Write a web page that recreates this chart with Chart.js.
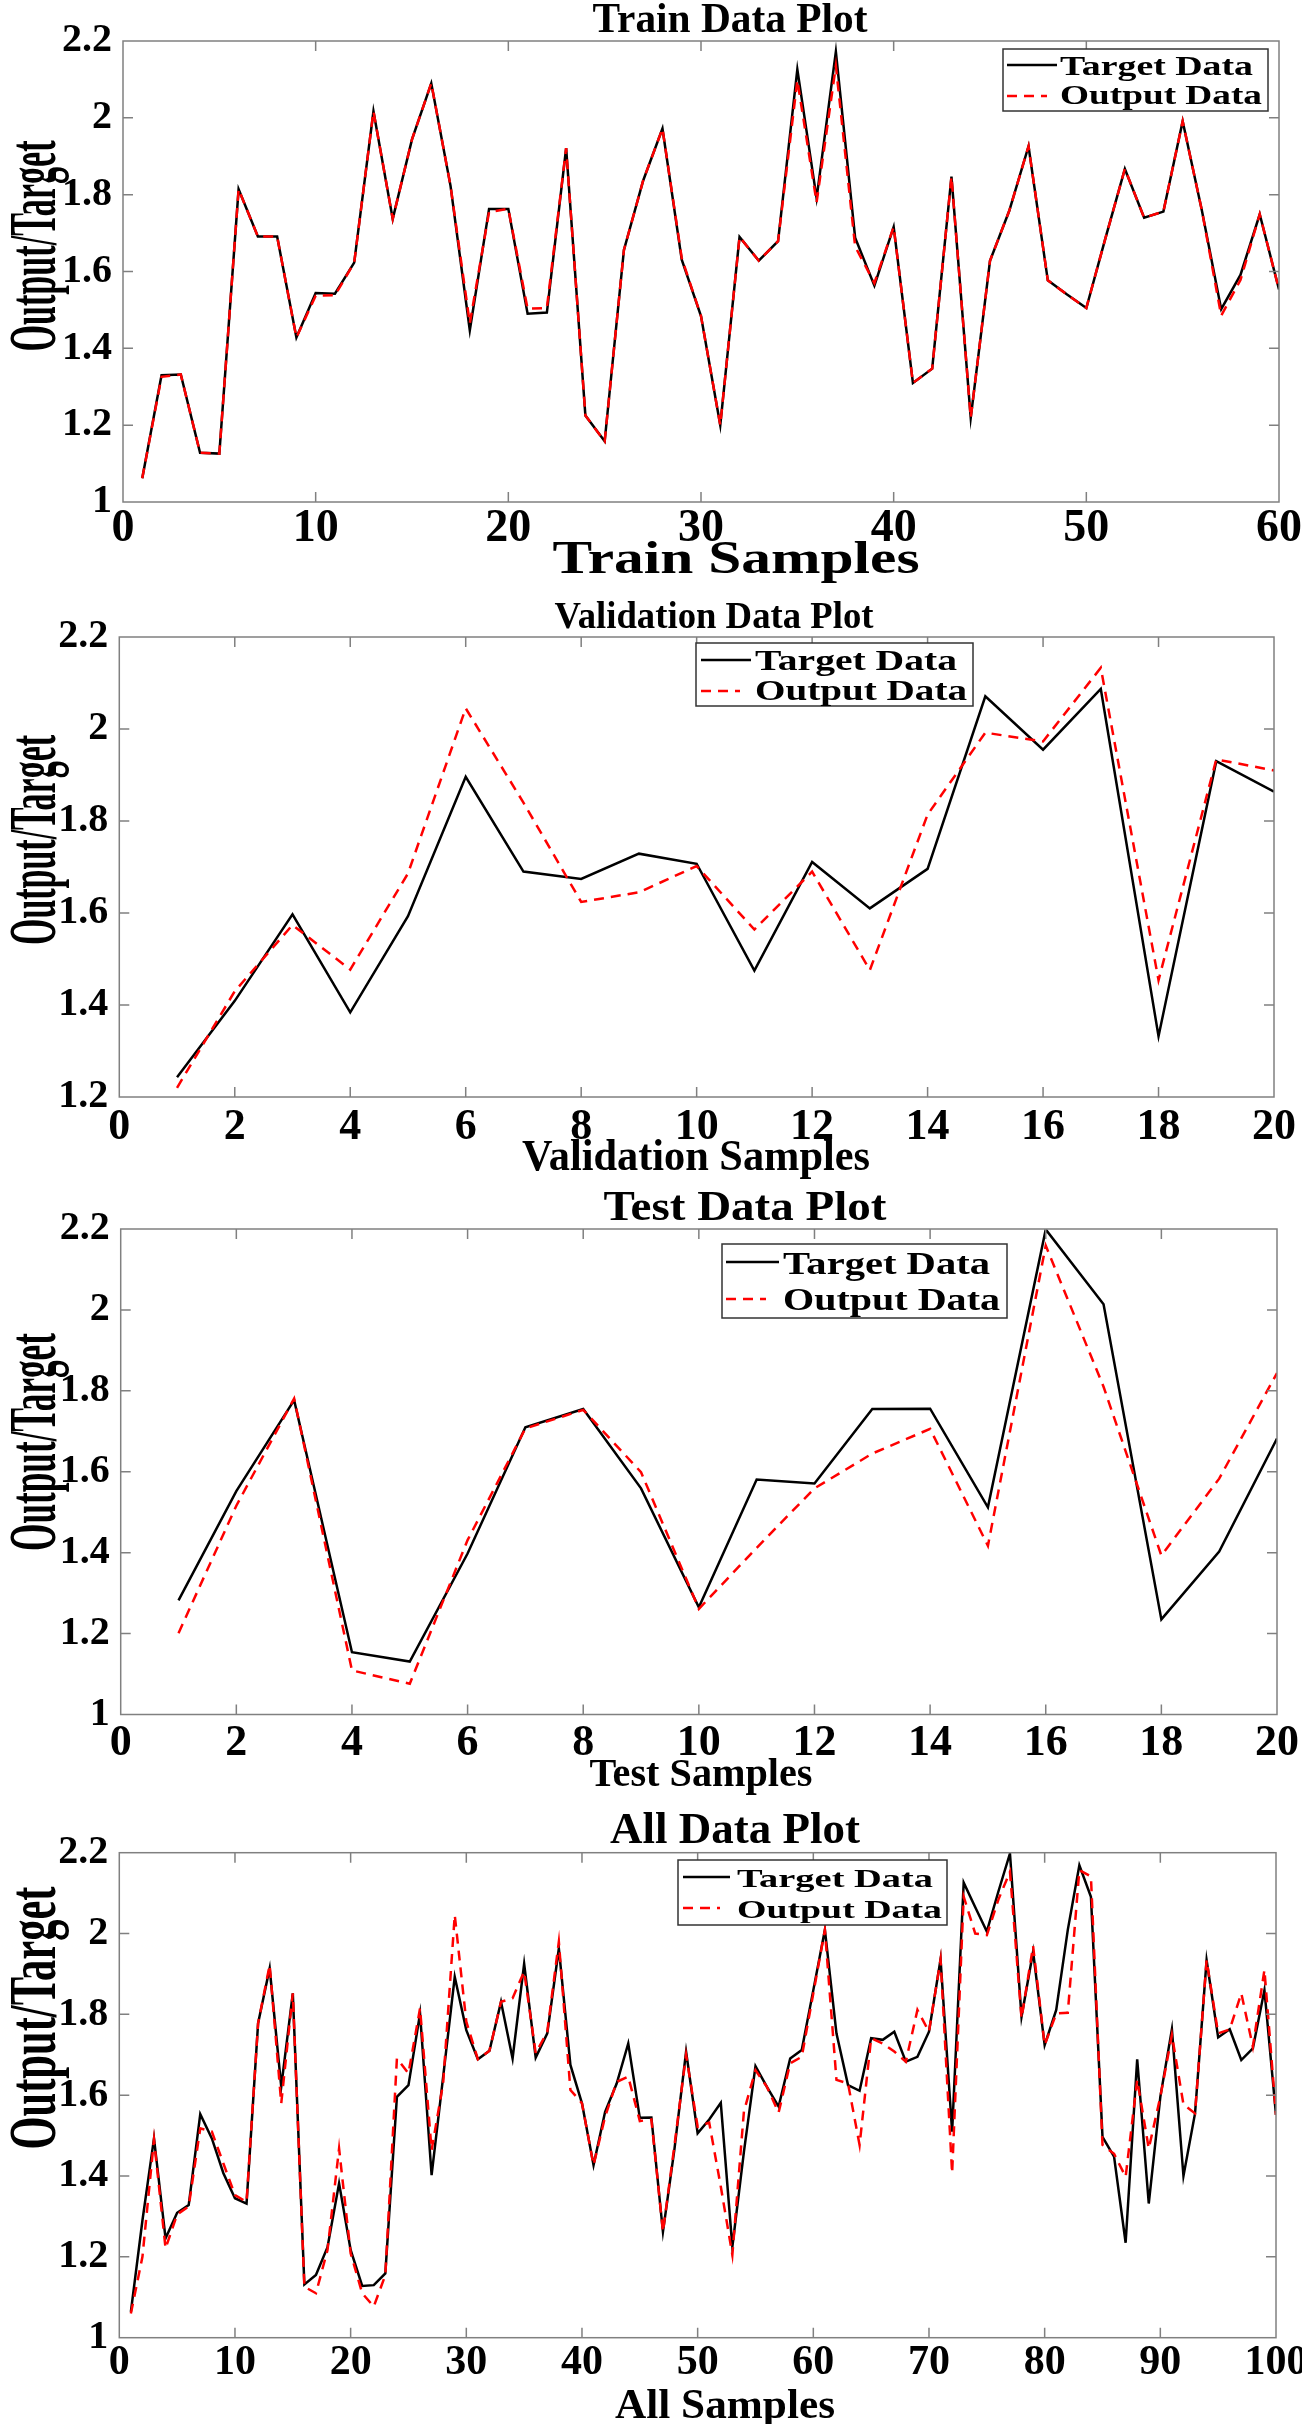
<!DOCTYPE html>
<html>
<head>
<meta charset="utf-8">
<title>Train / Validation / Test / All Data Plot</title>
<script src="https://cdn.jsdelivr.net/npm/chart.js@4.4.1/dist/chart.umd.min.js"></script>
<style>
  html, body { margin: 0; padding: 0; background: #fff; }
  body { position: relative; width: 1302px; height: 2424px; overflow: hidden; }
  canvas { position: absolute; left: 0; }
</style>
</head>
<body>
<canvas id="train" width="1302" height="600" style="top:0px"></canvas>
<canvas id="valid" width="1302" height="600" style="top:590px"></canvas>
<canvas id="test" width="1302" height="620" style="top:1185px"></canvas>
<canvas id="all" width="1302" height="619" style="top:1805px"></canvas>
<script>
//! Data

const trainTarget = [1.062, 1.330, 1.332, 1.128, 1.126, 1.814, 1.691, 1.691, 1.428, 1.544,
  1.542, 1.623, 2.017, 1.737, 1.944, 2.090, 1.823, 1.447, 1.763, 1.763,
  1.490, 1.493, 1.921, 1.225, 1.158, 1.656, 1.837, 1.972, 1.631, 1.484,
  1.200, 1.690, 1.628, 1.679, 2.126, 1.791, 2.172, 1.688, 1.563, 1.716,
  1.310, 1.347, 1.847, 1.219, 1.628, 1.758, 1.926, 1.577, 1.540, 1.505,
  1.688, 1.867, 1.740, 1.756, 1.991, 1.758, 1.502, 1.591, 1.749, 1.553];
const trainOutput = [1.062, 1.326, 1.332, 1.128, 1.126, 1.814, 1.691, 1.691, 1.428, 1.537,
  1.538, 1.623, 2.017, 1.737, 1.944, 2.090, 1.823, 1.465, 1.755, 1.763,
  1.503, 1.505, 1.921, 1.225, 1.158, 1.656, 1.837, 1.972, 1.635, 1.484,
  1.200, 1.690, 1.628, 1.679, 2.098, 1.780, 2.135, 1.665, 1.570, 1.716,
  1.310, 1.347, 1.847, 1.219, 1.628, 1.758, 1.926, 1.577, 1.540, 1.505,
  1.688, 1.867, 1.740, 1.756, 1.991, 1.758, 1.485, 1.578, 1.749, 1.553];

const validTarget = [1.243, 1.409, 1.597, 1.384, 1.593, 1.896, 1.690, 1.674, 1.729, 1.707,
  1.475, 1.711, 1.610, 1.696, 2.071, 1.955, 2.087, 1.332, 1.930, 1.864];
const validOutput = [1.220, 1.430, 1.574, 1.477, 1.686, 2.045, 1.840, 1.624, 1.645, 1.702,
  1.564, 1.690, 1.476, 1.814, 1.992, 1.973, 2.133, 1.454, 1.934, 1.910];

const testTarget = [1.282, 1.552, 1.777, 1.154, 1.131, 1.398, 1.710, 1.755, 1.559, 1.265,
  1.581, 1.571, 1.755, 1.756, 1.512, 2.199, 2.014, 1.235, 1.403, 1.682];
const testOutput = [1.201, 1.516, 1.781, 1.109, 1.076, 1.431, 1.707, 1.753, 1.599, 1.261,
  1.412, 1.559, 1.645, 1.706, 1.417, 2.159, 1.810, 1.393, 1.583, 1.844];

const allTarget = [1.064, 1.290, 1.493, 1.246, 1.309, 1.328, 1.553, 1.493, 1.407, 1.345,
  1.332, 1.778, 1.914, 1.621, 1.852, 1.132, 1.155, 1.224, 1.382, 1.217,
  1.128, 1.130, 1.159, 1.596, 1.625, 1.802, 1.402, 1.646, 1.893, 1.761,
  1.689, 1.710, 1.831, 1.691, 1.925, 1.693, 1.753, 1.963, 1.675, 1.580,
  1.427, 1.559, 1.629, 1.728, 1.544, 1.545, 1.262, 1.468, 1.708, 1.506,
  1.540, 1.581, 1.225, 1.460, 1.672, 1.620, 1.572, 1.691, 1.712, 1.860,
  2.009, 1.753, 1.625, 1.611, 1.741, 1.737, 1.757, 1.683, 1.695, 1.757,
  1.936, 1.510, 2.126, 2.065, 2.005, 2.104, 2.198, 1.794, 1.955, 1.724,
  1.811, 2.009, 2.169, 2.091, 1.497, 1.448, 1.235, 1.689, 1.332, 1.596,
  1.763, 1.400, 1.555, 1.934, 1.743, 1.763, 1.687, 1.716, 1.860, 1.551];
const allOutput = [1.060, 1.200, 1.490, 1.221, 1.305, 1.325, 1.518, 1.510, 1.431, 1.353,
  1.336, 1.778, 1.922, 1.580, 1.852, 1.126, 1.110, 1.217, 1.468, 1.209,
  1.110, 1.077, 1.155, 1.691, 1.654, 1.815, 1.464, 1.630, 2.046, 1.782,
  1.689, 1.710, 1.831, 1.840, 1.906, 1.704, 1.757, 1.980, 1.613, 1.580,
  1.427, 1.547, 1.633, 1.646, 1.536, 1.540, 1.262, 1.477, 1.700, 1.522,
  1.532, 1.374, 1.205, 1.560, 1.662, 1.620, 1.557, 1.679, 1.695, 1.852,
  2.009, 1.638, 1.629, 1.477, 1.741, 1.728, 1.708, 1.683, 1.811, 1.757,
  1.936, 1.407, 2.091, 2.000, 1.996, 2.084, 2.153, 1.790, 1.969, 1.724,
  1.802, 1.804, 2.157, 2.141, 1.477, 1.455, 1.398, 1.638, 1.468, 1.596,
  1.749, 1.577, 1.555, 1.934, 1.753, 1.763, 1.852, 1.720, 1.910, 1.551];

const xTicks60 = [0, 10, 20, 30, 40, 50, 60];
const xTicks20 = [0, 2, 4, 6, 8, 10, 12, 14, 16, 18, 20];
const xTicks100 = [0, 10, 20, 30, 40, 50, 60, 70, 80, 90, 100];
const yTicksFrom1 = [1, 1.2, 1.4, 1.6, 1.8, 2, 2.2];
const yTicksFrom12 = [1.2, 1.4, 1.6, 1.8, 2, 2.2];

//! Shared look

const FONT = "'Liberation Serif', 'Times New Roman', Times, serif";
Chart.defaults.font.family = FONT;
Chart.defaults.font.weight = "bold";
Chart.defaults.color = "#000";

// text drawn squeezed/stretched to a given width, like the original figure
function drawText(ctx, t, top) {
  ctx.save();
  ctx.font = `bold ${t.size}px ${FONT}`;
  ctx.fillStyle = "#000";
  ctx.textAlign = t.align || "center";
  ctx.textBaseline = "alphabetic";
  const sx = t.w ? t.w / ctx.measureText(t.text).width : 1;
  ctx.translate(t.x, t.y - top);
  if (t.rot) ctx.rotate(-Math.PI / 2);
  ctx.scale(sx, 1);
  ctx.fillText(t.text, 0, 0);
  ctx.restore();
}

function panelPlugin(p) {
  return {
    id: "panel-" + p.id,
    afterDatasetsDraw(chart) {
      const { ctx, chartArea: a, scales: { x, y } } = chart;
      ctx.save();
      ctx.strokeStyle = "#808080";
      ctx.lineWidth = 1.5;
      ctx.strokeRect(a.left, a.top, a.right - a.left, a.bottom - a.top);
      const len = 10;
      ctx.beginPath();
      x.ticks.forEach((t) => {
        const px = x.getPixelForValue(t.value);
        if (px < a.left + 2 || px > a.right - 2) return;
        ctx.moveTo(px, a.bottom); ctx.lineTo(px, a.bottom - len);
        ctx.moveTo(px, a.top); ctx.lineTo(px, a.top + len);
      });
      y.ticks.forEach((t) => {
        const py = y.getPixelForValue(t.value);
        if (py < a.top + 2 || py > a.bottom - 2) return;
        ctx.moveTo(a.left, py); ctx.lineTo(a.left + len, py);
        ctx.moveTo(a.right, py); ctx.lineTo(a.right - len, py);
      });
      ctx.stroke();
      ctx.restore();
    },
    afterDraw(chart) {
      const ctx = chart.ctx;
      p.texts.forEach((t) => drawText(ctx, t, p.top));
      // legend box
      const lg = p.legend;
      const [x1, y1, x2, y2] = lg.box;
      ctx.save();
      ctx.fillStyle = "#fff";
      ctx.fillRect(x1, y1 - p.top, x2 - x1, y2 - y1);
      ctx.strokeStyle = "#333";
      ctx.lineWidth = 1.5;
      ctx.strokeRect(x1, y1 - p.top, x2 - x1, y2 - y1);
      chart.data.datasets.forEach((ds, i) => {
        const row = lg.rows[i];
        ctx.beginPath();
        ctx.strokeStyle = ds.borderColor;
        ctx.lineWidth = ds.borderWidth;
        ctx.setLineDash(ds.borderDash || []);
        ctx.moveTo(row.line[0], row.y - p.top);
        ctx.lineTo(row.line[1], row.y - p.top);
        ctx.stroke();
        ctx.setLineDash([]);
        drawText(ctx, { text: ds.label, x: lg.textX, y: row.base, size: lg.size, w: row.w, align: "left" }, p.top);
      });
      ctx.restore();
    },
  };
}

function makeChart(p) {
  const toPoints = (arr) => arr.map((v, i) => ({ x: i + 1, y: v }));
  return new Chart(document.getElementById(p.id), {
    type: "line",
    data: {
      datasets: [
        {
          label: "Target Data",
          data: toPoints(p.target),
          borderColor: "#000000",
          borderWidth: 2.5,
          pointRadius: 0,
          tension: 0,
          order: 1,
        },
        {
          label: "Output Data",
          data: toPoints(p.output),
          borderColor: "#ff0000",
          borderWidth: 2.5,
          borderDash: [10, 7],
          pointRadius: 0,
          tension: 0,
          order: 0,
        },
      ],
    },
    options: {
      responsive: false,
      animation: false,
      events: [],
      layout: {
        padding: { top: p.plot.t - p.top, right: 1302 - p.plot.r, left: 0, bottom: 0 },
      },
      plugins: { legend: { display: false }, tooltip: { enabled: false } },
      scales: {
        x: {
          type: "linear",
          min: p.xTicks[0],
          max: p.xTicks[p.xTicks.length - 1],
          grid: { display: false, drawTicks: false },
          border: { display: false },
          ticks: { padding: p.xPad, maxRotation: 0, autoSkip: false, font: { size: p.xFont, weight: "bold" } },
          afterBuildTicks: (s) => { s.ticks = p.xTicks.map((v) => ({ value: v })); },
          afterFit: (s) => {
            s.height = p.top + p.height - p.plot.b;
            s.paddingLeft = 0;
            s.paddingRight = 0;
          },
        },
        y: {
          type: "linear",
          min: p.yTicks[0],
          max: p.yTicks[p.yTicks.length - 1],
          grid: { display: false, drawTicks: false },
          border: { display: false },
          ticks: {
            padding: 11,
            font: { size: 40, weight: "bold" },
            callback: (v) => String(+v.toFixed(1)),
          },
          afterBuildTicks: (s) => { s.ticks = p.yTicks.map((v) => ({ value: v })); },
          afterFit: (s) => {
            s.width = p.plot.l;
            s.paddingTop = 0;
            s.paddingBottom = 0;
          },
        },
      },
    },
    plugins: [panelPlugin(p)],
  });
}

//! Panels (positions in page pixels)

makeChart({
  id: "train", top: 0, height: 600,
  plot: { l: 123, r: 1279, t: 41, b: 502 },
  target: trainTarget, output: trainOutput,
  xTicks: xTicks60, yTicks: yTicksFrom1, xFont: 46, xPad: 0,
  texts: [
    { text: "Train Data Plot", x: 730, y: 32, size: 43, w: 275 },
    { text: "Train Samples", x: 736, y: 573, size: 46, w: 367 },
    { text: "Output/Target", x: 55, y: 246, size: 68, w: 211, rot: true },
  ],
  legend: {
    box: [1003, 49, 1268, 111], textX: 1060, size: 27,
    rows: [
      { line: [1007, 1057], y: 65, base: 75, w: 193 },
      { line: [1007, 1047], y: 96, base: 104, w: 202 },
    ],
  },
});

makeChart({
  id: "valid", top: 590, height: 600,
  plot: { l: 119.3, r: 1274, t: 637, b: 1097 },
  target: validTarget, output: validOutput,
  xTicks: xTicks20, yTicks: yTicksFrom12, xFont: 44, xPad: 4,
  texts: [
    { text: "Validation Data Plot", x: 714, y: 628, size: 37, w: 319 },
    { text: "Validation Samples", x: 696, y: 1170, size: 44, w: 348 },
    { text: "Output/Target", x: 55, y: 840, size: 68, w: 210, rot: true },
  ],
  legend: {
    box: [696, 643, 973, 706], textX: 755, size: 29,
    rows: [
      { line: [701, 751], y: 660, base: 670, w: 202 },
      { line: [701, 740], y: 691, base: 700, w: 212 },
    ],
  },
});

makeChart({
  id: "test", top: 1185, height: 620,
  plot: { l: 120.7, r: 1277, t: 1229, b: 1714.5 },
  target: testTarget, output: testOutput,
  xTicks: xTicks20, yTicks: yTicksFrom1, xFont: 44, xPad: 3,
  texts: [
    { text: "Test Data Plot", x: 745, y: 1220, size: 42, w: 283 },
    { text: "Test Samples", x: 701, y: 1786, size: 40, w: 223 },
    { text: "Output/Target", x: 55, y: 1442, size: 68, w: 218, rot: true },
  ],
  legend: {
    box: [722, 1244, 1007, 1318], textX: 783, size: 32,
    rows: [
      { line: [726, 779], y: 1262, base: 1274, w: 207 },
      { line: [726, 766], y: 1299, base: 1310, w: 217 },
    ],
  },
});

makeChart({
  id: "all", top: 1805, height: 619,
  plot: { l: 119.3, r: 1276, t: 1852.7, b: 2337.7 },
  target: allTarget, output: allOutput,
  xTicks: xTicks100, yTicks: yTicksFrom1, xFont: 42, xPad: 0,
  texts: [
    { text: "All Data Plot", x: 735, y: 1843, size: 44, w: 250 },
    { text: "All Samples", x: 725, y: 2418, size: 42, w: 220 },
    { text: "Output/Target", x: 55, y: 2018, size: 68, w: 263, rot: true },
  ],
  legend: {
    box: [678, 1860, 947, 1925], textX: 737, size: 26,
    rows: [
      { line: [683, 730], y: 1877, base: 1887, w: 196 },
      { line: [683, 720], y: 1908, base: 1918, w: 205 },
    ],
  },
});
</script>
</body>
</html>
